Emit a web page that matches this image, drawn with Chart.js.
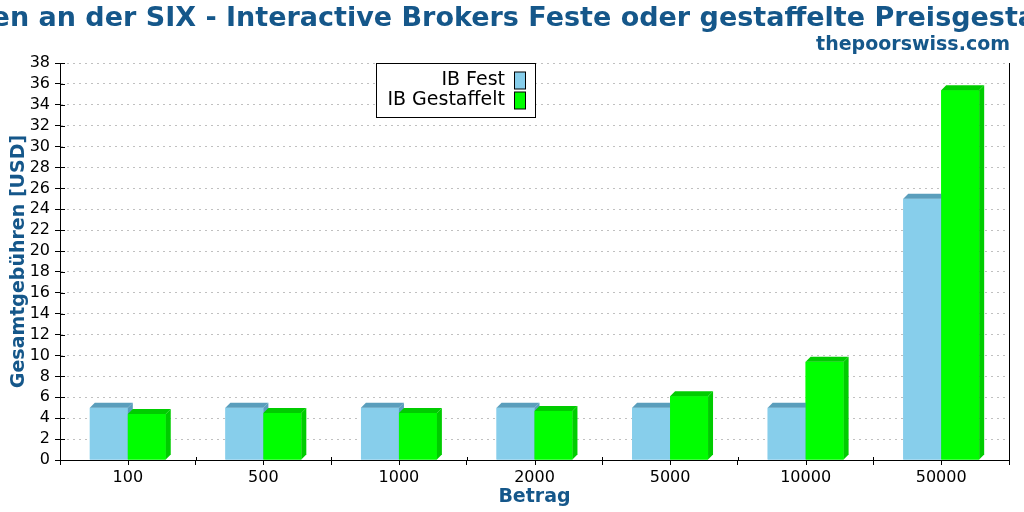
<!DOCTYPE html>
<html>
<head>
<meta charset="utf-8">
<script src="https://cdn.jsdelivr.net/npm/chart.js@4.4.1/dist/chart.umd.min.js"></script>
<style>
  html, body { margin: 0; padding: 0; background: #fff; }
  #wrap { width: 1024px; height: 512px; }
</style>
</head>
<body>
<div id="wrap"><canvas id="chart"></canvas></div>
<script>
// Daten
const betraege = ['100', '500', '1000', '2000', '5000', '10000', '50000'];
const ibFest = [5, 5, 5, 5, 5, 5, 25];
const ibGestaffelt = [4.4, 4.5, 4.5, 4.7, 6.1, 9.4, 35.4];
const yTicks = [0, 38, 2]; // min, max, step

const titel = 'Gebühren an der SIX - Interactive Brokers Feste oder gestaffelte Preisgestaltung';
const quelle = 'thepoorswiss.com';

const blau = '#15578a';
const TIEFE = 5;

// Titel ohne maxWidth, damit er wie im Original über den Rand läuft
const kopf = {
  id: 'kopf',
  afterDraw(chart) {
    const ctx = chart.ctx;
    ctx.save();
    ctx.fillStyle = blau;
    ctx.textBaseline = 'alphabetic';
    ctx.font = 'bold 27px "DejaVu Sans"';
    ctx.textAlign = 'center';
    ctx.fillText(titel, chart.width / 2 - 14, 26);
    ctx.font = 'bold 19px "DejaVu Sans"';
    ctx.textAlign = 'right';
    ctx.fillText(quelle, chart.chartArea.right + 1, 50);
    ctx.restore();
  }
};

// 3D-Balken: Front, Deckel und Seite pro Datensatz der Reihe nach
const bar3d = {
  id: 'bar3d',
  afterDatasetsDraw(chart) {
    const ctx = chart.ctx;
    ctx.save();
    chart.data.datasets.forEach((ds, i) => {
      const meta = chart.getDatasetMeta(i);
      meta.data.forEach(bar => {
        const { x, y, base, width } = bar.getProps(['x', 'y', 'base', 'width'], true);
        const l = x - width / 2, r = x + width / 2;
        ctx.fillStyle = ds.backgroundColor;
        ctx.fillRect(l, y, width, base - y);
        // Deckel
        ctx.fillStyle = ds.topColor;
        ctx.beginPath();
        ctx.moveTo(l, y);
        ctx.lineTo(l + TIEFE, y - TIEFE);
        ctx.lineTo(r + TIEFE, y - TIEFE);
        ctx.lineTo(r, y);
        ctx.closePath();
        ctx.fill();
        // Seite
        ctx.fillStyle = ds.sideColor;
        ctx.beginPath();
        ctx.moveTo(r, y);
        ctx.lineTo(r + TIEFE, y - TIEFE);
        ctx.lineTo(r + TIEFE, base - TIEFE);
        ctx.lineTo(r, base);
        ctx.closePath();
        ctx.fill();
      });
    });
    ctx.restore();
  }
};

// Achsen-Extras: rechter Rahmen, Ticks nach innen, Mittel-Ticks unten
const achsen = {
  id: 'achsen',
  afterDraw(chart) {
    const { ctx, chartArea: a, scales } = chart;
    ctx.save();
    ctx.strokeStyle = '#000';
    ctx.lineWidth = 1;
    ctx.beginPath();
    ctx.moveTo(a.right + 0.5, a.top);
    ctx.lineTo(a.right + 0.5, a.bottom);
    scales.y.ticks.forEach((t, i) => {
      const py = Math.round(scales.y.getPixelForTick(i)) + 0.5;
      ctx.moveTo(a.left, py);
      ctx.lineTo(a.left + 5, py);
    });
    const step = (a.right - a.left) / betraege.length;
    for (let i = 1; i < betraege.length; i++) {
      const px = Math.round(a.left + step * i) + 0.5;
      ctx.moveTo(px, a.bottom - 3);
      ctx.lineTo(px, a.bottom);
    }
    betraege.forEach((b, i) => {
      const px = Math.round(scales.x.getPixelForValue(i)) + 0.5;
      ctx.moveTo(px, a.bottom);
      ctx.lineTo(px, a.bottom + 5);
    });
    ctx.stroke();
    ctx.restore();
  }
};

// Legende im Diagramm, Text rechtsbündig, Kästchen rechts
const legende = {
  id: 'legende',
  afterDraw(chart) {
    const { ctx, chartArea: a } = chart;
    const left = a.left + 316, top = a.top, w = 159, h = 54;
    ctx.save();
    ctx.fillStyle = '#fff';
    ctx.fillRect(left, top, w, h);
    ctx.strokeStyle = '#000';
    ctx.lineWidth = 1;
    ctx.strokeRect(left + 0.5, top + 0.5, w, h);
    ctx.font = '19px "DejaVu Sans"';
    ctx.textAlign = 'right';
    ctx.textBaseline = 'middle';
    chart.data.datasets.forEach((ds, i) => {
      const cy = top + 17.5 + i * 20;
      ctx.fillStyle = '#000';
      ctx.fillText(ds.label, left + 129, cy);
      ctx.fillStyle = ds.backgroundColor;
      ctx.fillRect(left + 138, cy - 8.5, 11, 17);
      ctx.strokeRect(left + 138.5, cy - 8.5, 11, 17);
    });
    ctx.restore();
  }
};

new Chart(document.getElementById('chart'), {
  type: 'bar',
  data: {
    labels: betraege,
    datasets: [
      { label: 'IB Fest', data: ibFest, backgroundColor: '#87ceeb', topColor: '#5a9ebc', sideColor: '#5a9ebc' },
      { label: 'IB Gestaffelt', data: ibGestaffelt, backgroundColor: '#00ff00', topColor: '#00cc00', sideColor: '#00cc00' }
    ]
  },
  options: {
    responsive: true,
    maintainAspectRatio: false,
    animation: false,
    devicePixelRatio: 1,
    categoryPercentage: 0.56,
    barPercentage: 1.0,
    layout: { padding: { left: 0, right: 15, top: 63, bottom: 0 } },
    plugins: {
      legend: { display: false },
      tooltip: { enabled: false },
      title: { display: false },
      subtitle: { display: false }
    },
    scales: {
      x: {
        grid: { display: true, drawOnChartArea: false, tickLength: 5, color: '#000', offset: true },
        border: { color: '#000', width: 1 },
        ticks: { color: '#000', padding: 3, font: { family: '"DejaVu Sans"', size: 16 } },
        title: {
          display: true, text: 'Betrag', color: blau,
          font: { family: '"DejaVu Sans"', size: 19, weight: 'bold' },
          padding: { top: 0, bottom: 4 }
        },
        afterFit(scale) { scale.height = 52; }
      },
      y: {
        min: yTicks[0],
        max: yTicks[1],
        ticks: { stepSize: yTicks[2], autoSkip: false, color: '#000', padding: 5, font: { family: '"DejaVu Sans"', size: 16 } },
        grid: {
          color: '#c0c0c0', tickLength: 5,
          tickColor: '#000', tickBorderDash: []
        },
        border: { color: '#000', width: 1, dash: [2, 4] },
        title: {
          display: true, text: 'Gesamtgebühren [USD]', color: blau,
          font: { family: '"DejaVu Sans"', size: 19, weight: 'bold' },
          padding: { top: 8, bottom: 0 }
        },
        afterFit(scale) { scale.width = 60; }
      }
    }
  },
  plugins: [bar3d, achsen, legende, kopf]
});
</script>
</body>
</html>
